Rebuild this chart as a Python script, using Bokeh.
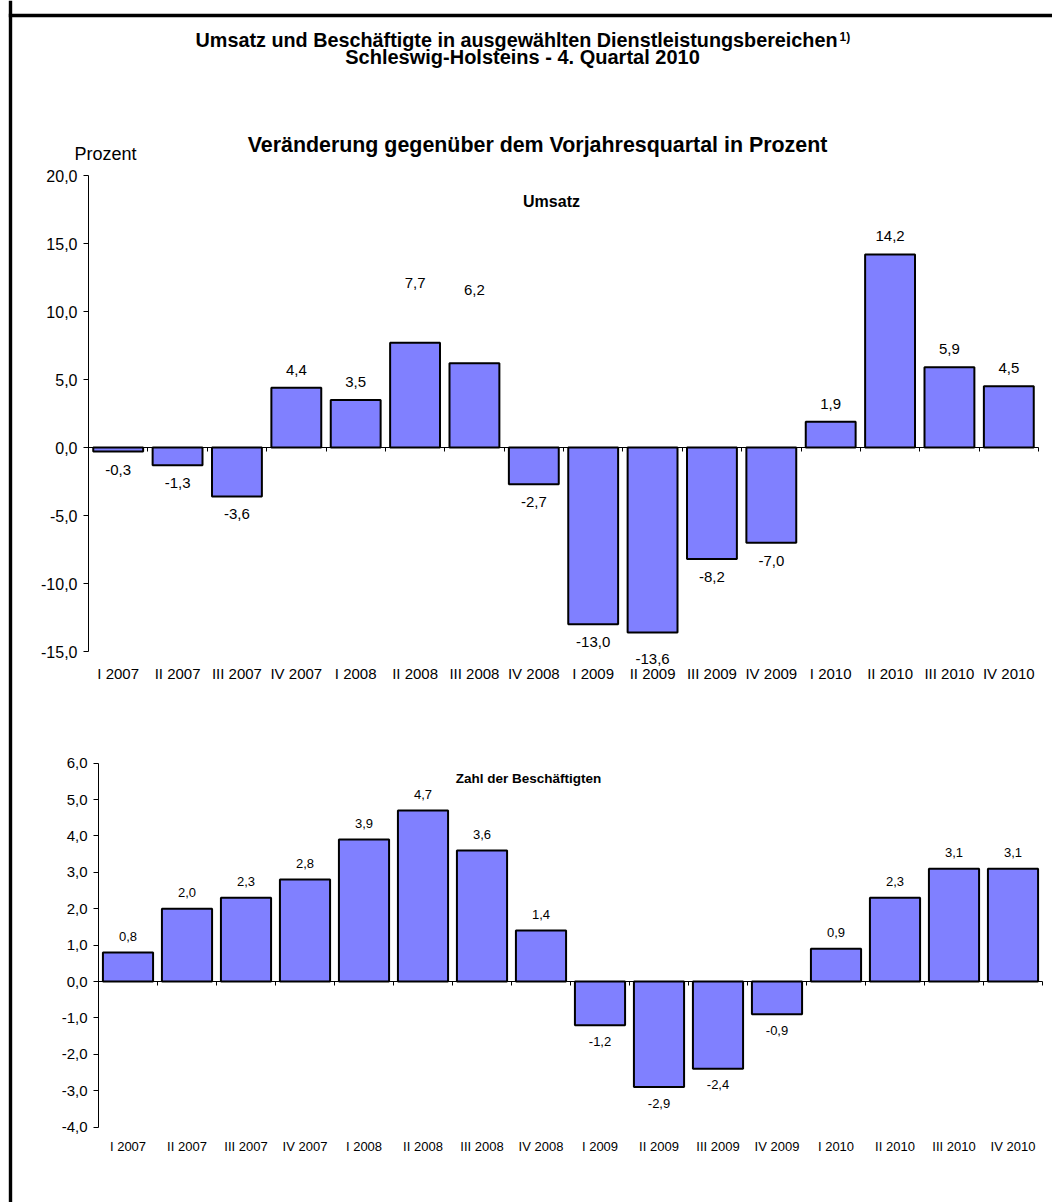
from bokeh.plotting import figure
from bokeh.models import (Range1d, FixedTicker, CustomJSTickFormatter, Label,
                          BoxAnnotation, ColumnDataSource, LinearAxis)
from bokeh.embed import file_html
from bokeh.resources import INLINE
from bokeh.core.properties import value

# ---------------- data ----------------
quarters = ["I 2007", "II 2007", "III 2007", "IV 2007",
            "I 2008", "II 2008", "III 2008", "IV 2008",
            "I 2009", "II 2009", "III 2009", "IV 2009",
            "I 2010", "II 2010", "III 2010", "IV 2010"]
umsatz = [-0.3, -1.3, -3.6, 4.4, 3.5, 7.7, 6.2, -2.7,
          -13.0, -13.6, -8.2, -7.0, 1.9, 14.2, 5.9, 4.5]
beschaeftigte = [0.8, 2.0, 2.3, 2.8, 3.9, 4.7, 3.6, 1.4,
                 -1.2, -2.9, -2.4, -0.9, 0.9, 2.3, 3.1, 3.1]
umsatz_ticks = [-15, -10, -5, 0, 5, 10, 15, 20]
besch_ticks = [-4, -3, -2, -1, 0, 1, 2, 3, 4, 5, 6]

title_line1 = "Umsatz und Beschäftigte in ausgewählten Dienstleistungsbereichen"
title_sup = "1)"
title_line2 = "Schleswig-Holsteins - 4. Quartal 2010"
subtitle = "Veränderung gegenüber dem Vorjahresquartal in Prozent"
y_label = "Prozent"
panel1_title = "Umsatz"
panel2_title = "Zahl der Beschäftigten"

# extra label shifts in pixels (style only; labels moved by hand in the original)
umsatz_label_nudge = [0, 0, 0, 0, 0, -42, -55, 0, 0, 9, 0, 0, 0, 0, 0, 0]
besch_label_nudge = [0] * 16

FONT = "Liberation Sans"
BAR_COLOR = "#8080FF"
W, H = 1052, 1202

# pixel layout of the two panels (page pixels): zero line, px per unit, value-axis x, px per category
TOP = dict(zero=447, ppu=13.6, ax=88, ppc=59.375)
BOT = dict(zero=981, ppu=36.4, ax=98, ppc=59.0)


def yr(cfg):
    return Range1d((cfg["zero"] - H) / cfg["ppu"], cfg["zero"] / cfg["ppu"])


def xr(cfg):
    return Range1d(-cfg["ax"] / cfg["ppc"], (W - cfg["ax"]) / cfg["ppc"])


p = figure(width=W, height=H, output_backend="svg", toolbar_location=None, title=None,
           x_range=xr(TOP), y_range=yr(TOP),
           x_axis_location=None, y_axis_location=None,
           min_border_left=0, min_border_right=0, min_border_top=0, min_border_bottom=0)
p.extra_x_ranges = {"xb": xr(BOT)}
p.extra_y_ranges = {"yb": yr(BOT)}
p.outline_line_color = None
p.background_fill_color = "white"
p.border_fill_color = "white"
p.xgrid.grid_line_color = None
p.ygrid.grid_line_color = None


def fmt(v):
    return f"{v:.1f}".replace(".", ",")


def draw_chart(values, nudges, ticks, xname, yname, ytick_size, xtick_size,
               lbl_size, lbl_off, xstandoff, bar_w):
    n = len(quarters)
    names = dict(x_range_name=xname, y_range_name=yname)

    # value axis
    p.add_layout(LinearAxis(
        fixed_location=0, bounds=(ticks[0], ticks[-1]), ticker=FixedTicker(ticks=ticks),
        formatter=CustomJSTickFormatter(code="return tick.toFixed(1).replace('.', ',');"),
        axis_line_color="black", axis_line_width=1,
        major_tick_line_color="black", major_tick_out=5, major_tick_in=0,
        minor_tick_line_color=None, major_label_standoff=6,
        major_label_text_font=FONT, major_label_text_font_size=ytick_size,
        major_label_text_color="black", **names), "left")

    # category axis line at zero, ticks at category boundaries
    p.add_layout(LinearAxis(
        fixed_location=0, bounds=(0, n), ticker=FixedTicker(ticks=list(range(n + 1))),
        axis_line_color="black", axis_line_width=1,
        major_tick_line_color="black", major_tick_out=4, major_tick_in=0,
        minor_tick_line_color=None, major_label_text_font_size="0px",
        major_label_text_color=None, **names), "below")

    # category labels below the plot area
    centers = [i + 0.5 for i in range(n)]
    p.add_layout(LinearAxis(
        fixed_location=ticks[0], ticker=FixedTicker(ticks=centers),
        formatter=CustomJSTickFormatter(args=dict(labels=quarters),
                                        code="return labels[Math.floor(tick)] || '';"),
        axis_line_color=None, major_tick_line_color=None, minor_tick_line_color=None,
        major_label_standoff=xstandoff, major_label_text_font=FONT,
        major_label_text_font_size=xtick_size, major_label_text_color="black", **names), "below")

    src = ColumnDataSource(dict(
        x=centers, v=values,
        lbl=[fmt(v) for v in values],
        off=[(-lbl_off if v >= 0 else lbl_off) + d for v, d in zip(values, nudges)],
    ))
    p.vbar(x="x", top="v", bottom=0, width=bar_w, source=src,
           fill_color=BAR_COLOR, line_color="black", line_width=2, **names)
    p.text(x="x", y="v", text="lbl", y_offset="off", source=src,
           text_align="center", text_baseline="middle",
           text_font=value(FONT), text_font_size=lbl_size, text_color="black", **names)


def add_label(x, y, text, size, bold=True, align="center"):
    # (x, y) in page pixels; y is the vertical centre of the text
    p.add_layout(Label(x=x, y=H - y, x_units="screen", y_units="screen",
                       text=text, text_font=FONT, text_font_size=size,
                       text_font_style="bold" if bold else "normal",
                       text_align=align, text_baseline="middle", text_color="black"))


draw_chart(umsatz, umsatz_label_nudge, umsatz_ticks, "default", "default",
           "16px", "15px", "15px", 18, 7, 0.84)
draw_chart(beschaeftigte, besch_label_nudge, besch_ticks, "xb", "yb",
           "15px", "13px", "13px", 16, 6, 0.85)

# page frame (left and top edges)
p.add_layout(BoxAnnotation(left=8.3, left_units="screen", right=11.7, right_units="screen",
                           fill_color="black", fill_alpha=1, line_color=None))
p.add_layout(BoxAnnotation(left=8.3, left_units="screen",
                           top=H - 13.3, top_units="screen",
                           bottom=H - 16.7, bottom_units="screen",
                           fill_color="black", fill_alpha=1, line_color=None))

add_label(837, 39, title_line1, "19.8px", align="right")
add_label(839, 36, title_sup, "12px", align="left")
add_label(522, 56.5, title_line2, "20px")
add_label(537, 144, subtitle, "21.4px")
add_label(74, 153.5, y_label, "18px", bold=False, align="left")
add_label(551, 201, panel1_title, "16px")
add_label(528, 778, panel2_title, "13.5px")

open("out.html", "w").write(file_html(p, INLINE))
